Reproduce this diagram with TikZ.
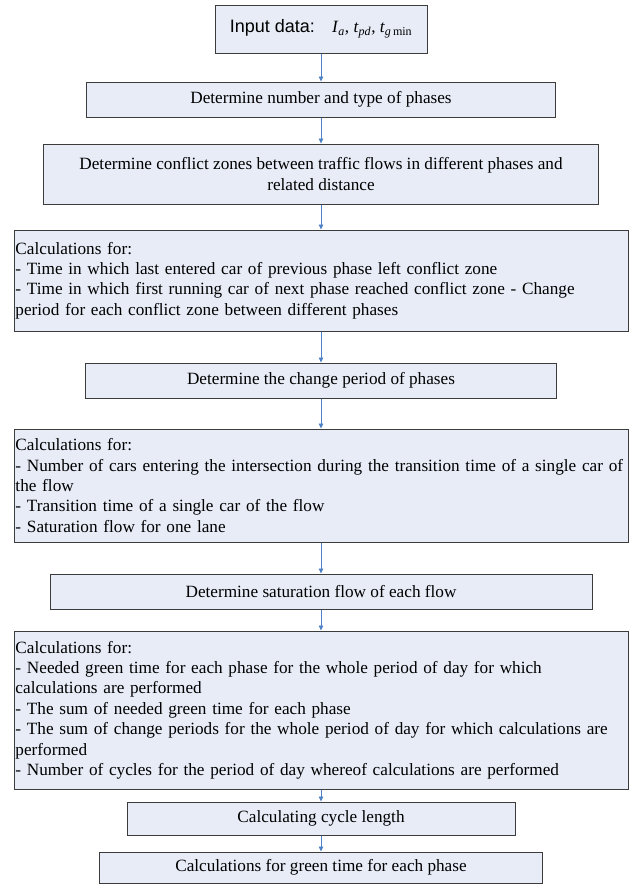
\documentclass[tikz,border=0pt]{standalone}
\usepackage{fontspec}
\setmainfont{Liberation Serif}
\newfontfamily\arialfont{Liberation Sans}
\usetikzlibrary{arrows.meta}
\definecolor{boxfill}{RGB}{231,236,247}
\definecolor{boxline}{RGB}{60,60,60}
\definecolor{flowblue}{RGB}{79,129,199}
\tikzset{
  pbox/.style={draw=boxline, fill=boxfill, line width=1pt, align=center, inner xsep=1.5pt,
    font=\fontsize{17.2}{20.4}\selectfont},
  cbox/.style={pbox, align=left, text width=611pt, minimum width=614pt},
  farr/.style={-{Triangle[length=5pt, width=4.5pt]}, flowblue, line width=0.8pt},
}

\begin{document}
\begin{tikzpicture}[x=1pt, y=-1pt]
  \useasboundingbox (0,0) rectangle (640,884);
  \node[pbox, minimum width=212pt, minimum height=48pt] (input) at (321,29)
    {{\arialfont\fontsize{18}{20}\selectfont Input data:}\quad
     \textit{I}\textsubscript{\textit{a}}, \textit{t}\textsubscript{\textit{pd}},
     \textit{t}\textsubscript{\textit{g}\,min}};
  \node[pbox, minimum width=469pt, minimum height=35pt] (phases) at (321,99.5)
    {Determine number and type of phases};
  \node[pbox, minimum width=555pt, minimum height=60pt] (zones) at (321,174)
    {Determine conflict zones between traffic flows in different phases and\\related distance};
  \node[cbox, minimum height=101pt] (calcchange) at (321,280.5)
    {Calculations for:\\
     - Time in which last entered car of previous phase left conflict zone\\
     - Time in which first running car of next phase reached conflict zone - Change\\
     period for each conflict zone between different phases};
  \node[pbox, minimum width=471pt, minimum height=35pt] (changeper) at (321,380.5)
    {Determine the change period of phases};
  \node[cbox, minimum height=113pt] (calcsat) at (321,485.5)
    {Calculations for:\\
     \mbox{- Number of cars entering the intersection during the transition time of a single car of}\\
     the flow\\
     - Transition time of a single car of the flow\\
     - Saturation flow for one lane};
  \node[pbox, minimum width=542pt, minimum height=35pt] (satflow) at (321,591.5)
    {Determine saturation flow of each flow};
  \node[cbox, minimum height=158pt] (calccycle) at (321,710)
    {Calculations for:\\
     - Needed green time for each phase for the whole period of day for which\\
     calculations are performed\\
     - The sum of needed green time for each phase\\
     \mbox{- The sum of change periods for the whole period of day for which calculations are}\\
     performed\\
     - Number of cycles for the period of day whereof calculations are performed};
  \node[pbox, minimum width=388pt, minimum height=33pt] (cyclen) at (321,818.5)
    {Calculating cycle length};
  \node[pbox, minimum width=443pt, minimum height=31pt] (greent) at (321,867.5)
    {Calculations for green time for each phase};

  \draw[farr] (input) -- (phases);
  \draw[farr] (phases) -- (zones);
  \draw[farr] (zones) -- (calcchange);
  \draw[farr] (calcchange) -- (changeper);
  \draw[farr] (changeper) -- (calcsat);
  \draw[farr] (calcsat) -- (satflow);
  \draw[farr] (satflow) -- (calccycle);
  \draw[farr] (calccycle) -- (cyclen);
  \draw[farr] (cyclen) -- (greent);
\end{tikzpicture}
\end{document}
